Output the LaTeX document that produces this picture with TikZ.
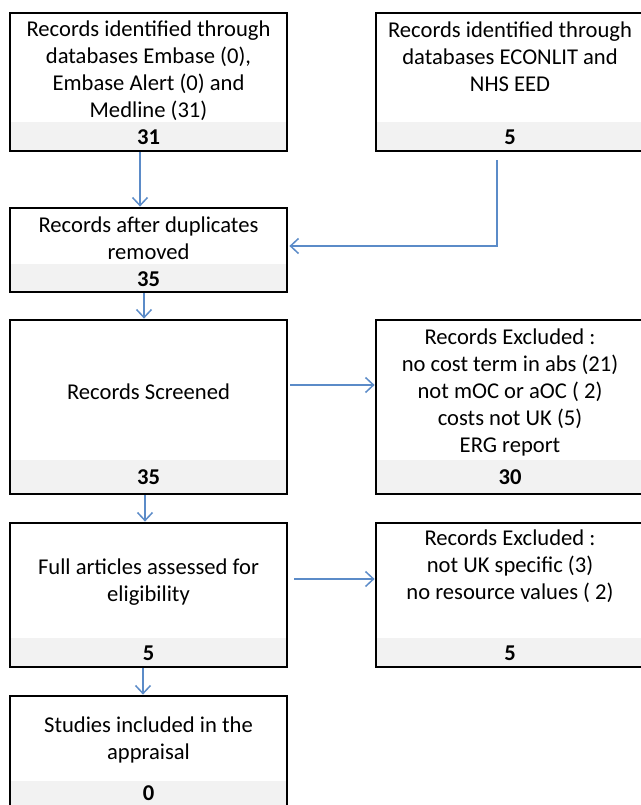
\documentclass[tikz,border=0pt]{standalone}
\usepackage{fontspec}
\setmainfont{Carlito}
\usetikzlibrary{arrows.meta}
\definecolor{stripgray}{HTML}{F2F2F2}
\definecolor{arrowblue}{RGB}{91,139,200}
\begin{document}
\begin{tikzpicture}[x=1pt,y=-1pt,
  flowbox/.style={draw=black, line width=2.8pt, minimum width=277pt, inner sep=0pt,
    path picture={\fill[stripgray] (path picture bounding box.south west) rectangle ([yshift=#1]path picture bounding box.south east);}},
  txt/.style={align=center, inner sep=0pt, font=\fontsize{22.6}{27}\selectfont},
  num/.style={inner sep=0pt, font=\fontsize{22.6}{27}\selectfont\bfseries},
  arr/.style={draw=arrowblue, line width=1.5pt, -{Straight Barb[length=8pt,width=15pt,line width=1.5pt]}}
]
\useasboundingbox (0,0) rectangle (640,805);
\fill[white] (0,0) rectangle (640,805);
% boxes
\node[flowbox=29, minimum height=138pt] (b1) at (148.5,82) {};
\node[flowbox=29, minimum height=138pt] (b2) at (514.5,82) {};
\node[flowbox=28, minimum height=84pt] (b3) at (148.5,250) {};
\node[flowbox=34, minimum height=174pt] (b4) at (148.5,407) {};
\node[flowbox=34, minimum height=174pt] (b5) at (514.5,407) {};
\node[flowbox=29, minimum height=144pt] (b6) at (148.5,595) {};
\node[flowbox=29, minimum height=144pt] (b7) at (514.5,595) {};
\node[flowbox=31, minimum height=116pt] (b8) at (148.5,754) {};
% texts
\node[txt] (t1) at (148.5,71) {Records identified through\\databases Embase (0),\\Embase Alert (0) and\\Medline (31)};
\node[num] (n1) at (148.5,137) {31};
\node[txt] (t2) at (510,57) {Records identified through\\databases ECONLIT and\\NHS EED};
\node[num] (n2) at (510,137) {5};
\node[txt] (t3) at (148.5,238.5) {Records after duplicates\\removed};
\node[num] (n3) at (148.5,279) {35};
\node[txt] (t4) at (148.5,392) {Records Screened};
\node[num] (n4) at (148.5,477) {35};
\node[txt] (t5) at (510,392) {Records Excluded :\\no cost term in abs (21)\\not mOC or aOC ( 2)\\costs not UK (5)\\ERG report};
\node[num] (n5) at (510,477) {30};
\node[txt] (t6) at (148.5,582) {Full articles assessed for\\eligibility};
\node[num] (n6) at (148.5,653) {5};
\node[txt] (t7) at (510,566.5) {Records Excluded :\\not UK specific (3)\\no resource values ( 2)};
\node[num] (n7) at (510,653) {5};
\node[txt] (t8) at (148.5,739.5) {Studies included in the\\appraisal};
\node[num] (n8) at (148.5,793) {0};
% connectors
\draw[arr] ([xshift=-8.5pt]b1.south) -- ([xshift=-8.5pt]b3.north);
\draw[arr] ([xshift=-17.5pt,yshift=-8pt]b2.south) |- ([xshift=1pt,yshift=4pt]b3.east);
\draw[arr] ([xshift=-4.5pt]b3.south) -- ([xshift=-4.5pt]b4.north);
\draw[arr] ([xshift=2pt,yshift=22pt]b4.east) -- ([yshift=22pt]b5.west);
\draw[arr] ([xshift=-3.5pt]b4.south) -- ([xshift=-3.5pt]b6.north);
\draw[arr] ([xshift=6pt,yshift=16pt]b6.east) -- ([yshift=16pt]b7.west);
\draw[arr] ([xshift=-5.5pt]b6.south) -- ([xshift=-5.5pt]b8.north);
\end{tikzpicture}
\end{document}
